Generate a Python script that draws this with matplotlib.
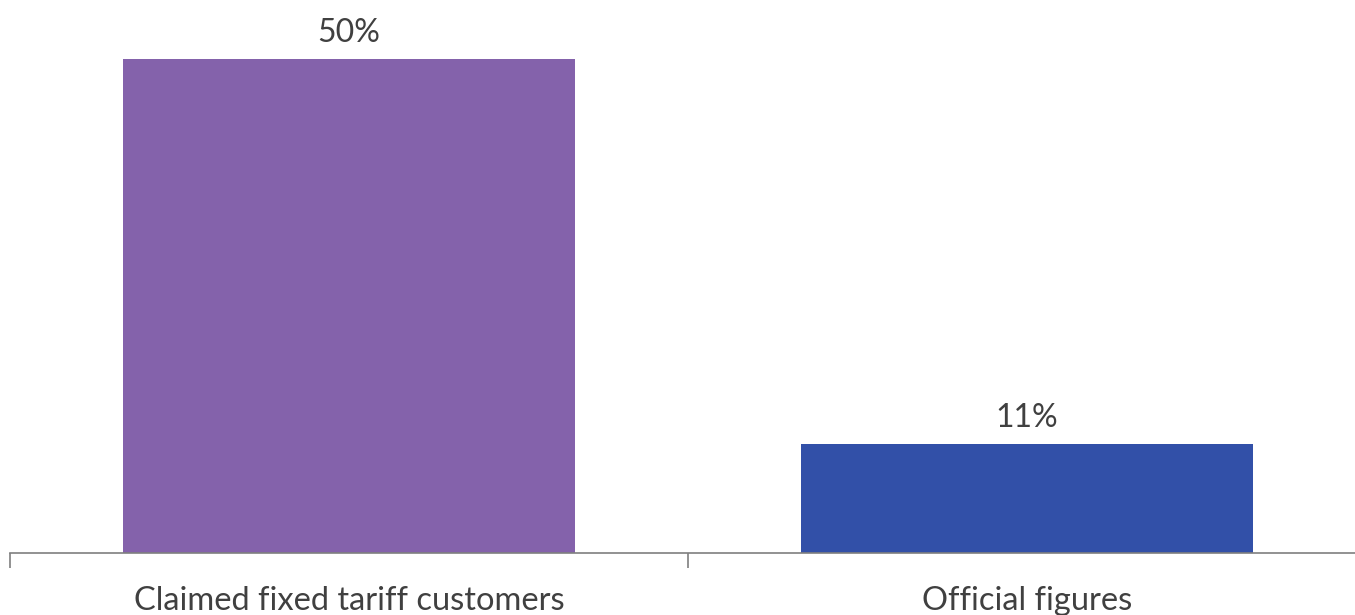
import matplotlib.pyplot as plt

categories = ["Claimed fixed tariff customers", "Official figures"]
values = [50, 11]
labels = ["50%", "11%"]
colors = ["#8462AB", "#3250A8"]

plt.rcParams["font.family"] = ["Lato", "DejaVu Sans"]

fig = plt.figure(figsize=(13.55, 6.15), dpi=100)
ax = fig.add_axes([10 / 1355, 62.5 / 615, 1356 / 1355, 552.5 / 615])

x = range(len(categories))
ax.bar(x, values, width=0.668, color=colors)
for xi, v, lab in zip(x, values, labels):
    ax.annotate(lab, (xi, v), xytext=(0, 8), textcoords="offset points",
                ha="center", va="bottom", fontsize=23, color="#404040")

ax.set_xlim(-0.5, 1.5)
ax.set_ylim(0, 56)
ax.set_xticks([-0.5, 0.5, 1.5])
ax.set_xticklabels([])
ax.set_xticks(list(x), categories, minor=True)
ax.tick_params(axis="x", which="major", length=11, width=1.2, color="#7f7f7f")
ax.tick_params(axis="x", which="minor", length=0, pad=24, labelsize=23.5, labelcolor="#404040")
ax.set_yticks([])
for s in ["top", "right", "left"]:
    ax.spines[s].set_visible(False)
ax.spines["bottom"].set_color("#7f7f7f")
ax.spines["bottom"].set_linewidth(1.2)

fig.savefig("out.png", dpi=100)
